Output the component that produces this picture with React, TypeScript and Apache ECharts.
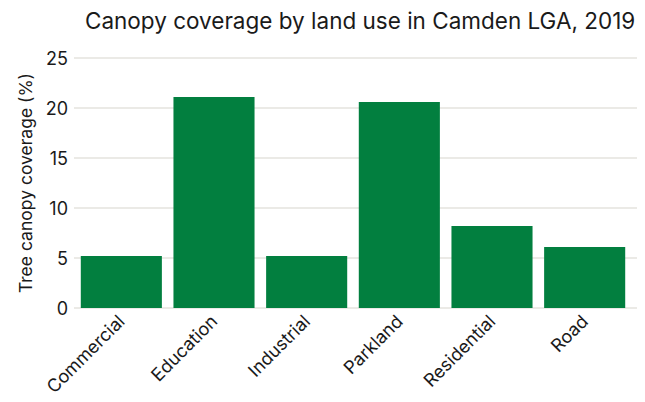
import React, { useEffect, useRef } from "react";
import * as echarts from "echarts";

const categories = ["Commercial", "Education", "Industrial", "Parkland", "Residential", "Road"];
const coverage = [5.2, 21.1, 5.2, 20.6, 8.2, 6.1];
const yTicks = [0, 5, 10, 15, 20, 25];
const titleText = "Canopy coverage by land use in Camden LGA, 2019";
const yAxisTitle = "Tree canopy coverage (%)";

const FONT = "Inter, 'Noto Sans', sans-serif";
const TEXT = "#1a1a1a";

export default function App() {
  const ref = useRef<HTMLDivElement>(null);
  useEffect(() => {
    if (!ref.current) return;
    const chart = echarts.init(ref.current, null, { renderer: "svg" });
    const yMin = yTicks[0];
    const yMax = yTicks[yTicks.length - 1];
    const step = yTicks[1] - yTicks[0];
    chart.setOption({
      animation: false,
      backgroundColor: "#ffffff",
      title: {
        text: titleText,
        left: 77,
        top: 1,
        padding: 0,
        textStyle: { fontFamily: FONT, fontSize: 22.5, fontWeight: "normal", color: TEXT },
      },
      grid: [
        { left: 58, right: 0, top: 50, bottom: 94, containLabel: false },
        { left: 67, right: 14, top: 50, bottom: 94, containLabel: false },
      ],
      xAxis: [
        {
          type: "category",
          gridIndex: 0,
          data: categories,
          show: false,
        },
        {
          type: "category",
          gridIndex: 1,
          data: categories,
          axisLine: { show: false },
          axisTick: { show: false },
          axisLabel: {
            rotate: 45,
            interval: 0,
            margin: 10,
            fontFamily: FONT,
            fontSize: 18,
            color: TEXT,
          },
        },
      ],
      yAxis: [
        {
          type: "value",
          gridIndex: 0,
          min: yMin,
          max: yMax,
          interval: step,
          name: yAxisTitle,
          nameLocation: "middle",
          nameGap: 40,
          nameTextStyle: { fontFamily: FONT, fontSize: 17.5, color: TEXT },
          axisLine: { show: false },
          axisTick: { show: false },
          axisLabel: { margin: 6, fontFamily: FONT, fontSize: 18, color: TEXT },
          splitLine: { lineStyle: { color: "#ebeae6", width: 2 } },
        },
        {
          type: "value",
          gridIndex: 1,
          min: yMin,
          max: yMax,
          interval: step,
          show: false,
          splitLine: { show: false },
        },
      ],
      series: [
        {
          type: "bar",
          xAxisIndex: 1,
          yAxisIndex: 1,
          data: coverage,
          barCategoryGap: "12.5%",
          itemStyle: { color: "#027f3f" },
        },
      ],
    });
    return () => chart.dispose();
  }, []);
  return <div ref={ref} style={{ width: 637, height: 394 }} />;
}
